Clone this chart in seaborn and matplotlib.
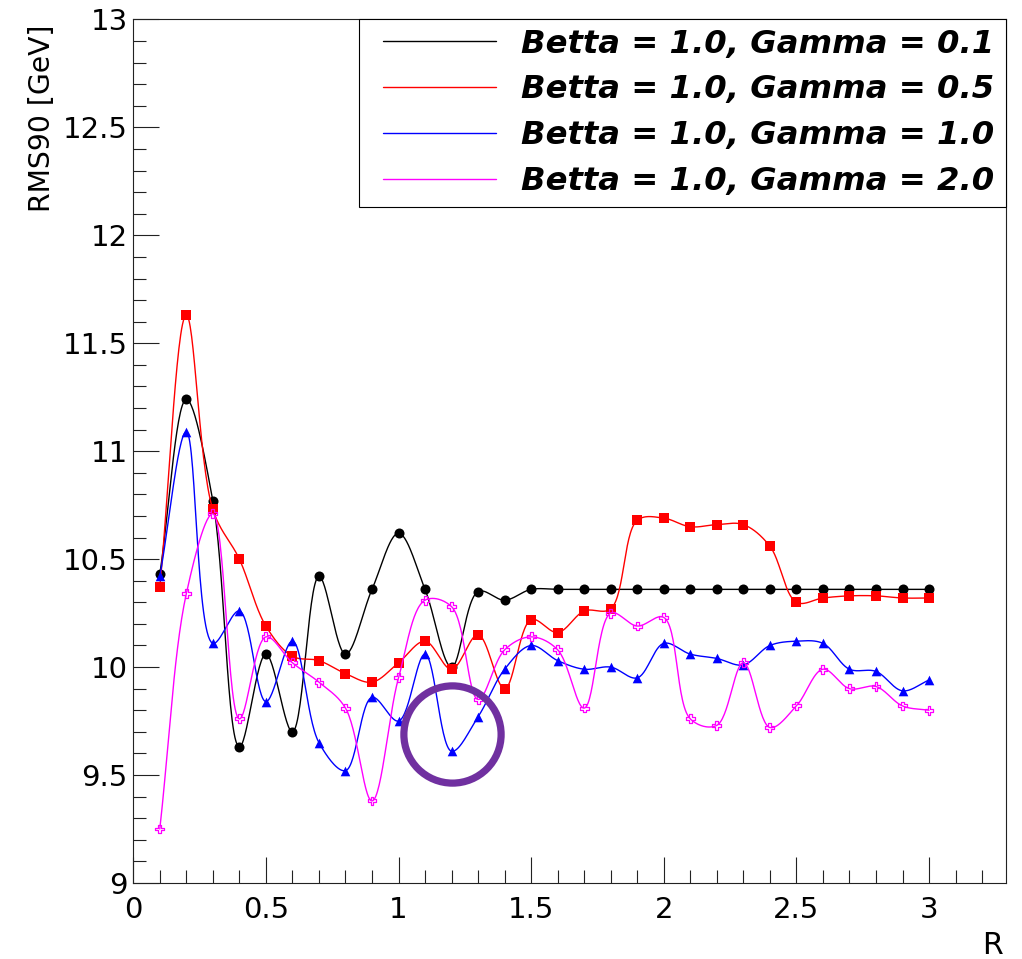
import numpy as np
import pandas as pd
import seaborn as sns
import matplotlib
matplotlib.use("Agg")
import matplotlib.pyplot as plt
from matplotlib.path import Path
from matplotlib.ticker import MultipleLocator, FuncFormatter
from matplotlib.font_manager import FontProperties

# ---- data -------------------------------------------------------------
r_values = [0.1, 0.2, 0.3, 0.4, 0.5, 0.6, 0.7, 0.8, 0.9, 1.0,
            1.1, 1.2, 1.3, 1.4, 1.5, 1.6, 1.7, 1.8, 1.9, 2.0,
            2.1, 2.2, 2.3, 2.4, 2.5, 2.6, 2.7, 2.8, 2.9, 3.0]

rms_gamma_01 = [10.43, 11.24, 10.77, 9.63, 10.06, 9.70, 10.42, 10.06, 10.36, 10.62,
                10.36, 10.00, 10.35, 10.31, 10.36, 10.36, 10.36, 10.36, 10.36, 10.36,
                10.36, 10.36, 10.36, 10.36, 10.36, 10.36, 10.36, 10.36, 10.36, 10.36]

rms_gamma_05 = [10.37, 11.63, 10.73, 10.50, 10.19, 10.05, 10.03, 9.97, 9.93, 10.02,
                10.12, 9.99, 10.15, 9.90, 10.22, 10.16, 10.26, 10.27, 10.68, 10.69,
                10.65, 10.66, 10.66, 10.56, 10.30, 10.32, 10.33, 10.33, 10.32, 10.32]

rms_gamma_10 = [10.42, 11.09, 10.11, 10.26, 9.84, 10.12, 9.65, 9.52, 9.86, 9.75,
                10.06, 9.61, 9.77, 9.99, 10.10, 10.03, 9.99, 10.00, 9.95, 10.11,
                10.06, 10.04, 10.01, 10.10, 10.12, 10.11, 9.99, 9.98, 9.89, 9.94]

rms_gamma_20 = [9.25, 10.34, 10.71, 9.76, 10.14, 10.02, 9.93, 9.81, 9.38, 9.95,
                10.31, 10.28, 9.85, 10.08, 10.14, 10.08, 9.81, 10.25, 10.19, 10.23,
                9.76, 9.73, 10.02, 9.72, 9.82, 9.99, 9.90, 9.91, 9.82, 9.80]

series_labels = ["Betta = 1.0, Gamma = 0.1", "Betta = 1.0, Gamma = 0.5",
                 "Betta = 1.0, Gamma = 1.0", "Betta = 1.0, Gamma = 2.0"]

# highlighted point (blue minimum)
highlight_r = 1.2
highlight_rms = 9.69


def smooth_curve(x, y, per_interval=30, alpha=0.5, sx=265.5, sy=215.9):
    """Centripetal Catmull-Rom curve through the points, built in
    screen-like units so steep segments bend naturally."""
    P = np.column_stack([np.asarray(x, float) * sx, np.asarray(y, float) * sy])
    P = np.vstack([2 * P[0] - P[1], P, 2 * P[-1] - P[-2]])
    out = []
    for i in range(1, len(P) - 2):
        p0, p1, p2, p3 = P[i - 1], P[i], P[i + 1], P[i + 2]
        t0 = 0.0
        t1 = t0 + np.linalg.norm(p1 - p0) ** alpha
        t2 = t1 + np.linalg.norm(p2 - p1) ** alpha
        t3 = t2 + np.linalg.norm(p3 - p2) ** alpha
        last = i == len(P) - 3
        t = np.linspace(t1, t2, per_interval, endpoint=last)[:, None]
        a1 = (t1 - t) / (t1 - t0) * p0 + (t - t0) / (t1 - t0) * p1
        a2 = (t2 - t) / (t2 - t1) * p1 + (t - t1) / (t2 - t1) * p2
        a3 = (t3 - t) / (t3 - t2) * p2 + (t - t2) / (t3 - t2) * p3
        b1 = (t2 - t) / (t2 - t0) * a1 + (t - t0) / (t2 - t0) * a2
        b2 = (t3 - t) / (t3 - t1) * a2 + (t - t1) / (t3 - t1) * a3
        c = (t2 - t) / (t2 - t1) * b1 + (t - t1) / (t2 - t1) * b2
        out.append(c)
    C = np.vstack(out)
    return C[:, 0] / sx, C[:, 1] / sy


# open cross marker outline
cross_verts = [(-1/3, 1), (1/3, 1), (1/3, 1/3), (1, 1/3), (1, -1/3), (1/3, -1/3),
               (1/3, -1), (-1/3, -1), (-1/3, -1/3), (-1, -1/3), (-1, 1/3),
               (-1/3, 1/3), (-1/3, 1)]
open_cross = Path(cross_verts, [Path.MOVETO] + [Path.LINETO] * 11 + [Path.CLOSEPOLY])

sns.set_style("ticks")
plt.rcParams["font.family"] = ["DejaVu Sans"]
plt.rcParams["text.color"] = "black"
plt.rcParams["axes.labelcolor"] = "black"

fig = plt.figure(figsize=(10.22, 9.59), dpi=100)
ax = fig.add_axes([0.1304, 0.0793, 0.8539, 0.9004])

styles = [
    (rms_gamma_01, "#000000", "o", 52, True),
    (rms_gamma_05, "#FF0000", "s", 44, True),
    (rms_gamma_10, "#0000FF", "^", 48, True),
    (rms_gamma_20, "#FF00FF", open_cross, 40, False),
]

for k, (vals, color, marker, size, filled) in enumerate(styles):
    xs, ys = smooth_curve(r_values, vals)
    curve = pd.DataFrame({"R": xs, "RMS90": ys})
    sns.lineplot(data=curve, x="R", y="RMS90", color=color, lw=1.0,
                 estimator=None, sort=False, label=series_labels[k],
                 ax=ax, zorder=2 + k)
    pts = pd.DataFrame({"R": r_values, "RMS90": vals})
    if filled:
        sns.scatterplot(data=pts, x="R", y="RMS90", marker=marker, s=size,
                        color=color, edgecolor=color, linewidth=0,
                        legend=False, ax=ax, zorder=2.5 + k)
    else:
        sns.scatterplot(data=pts, x="R", y="RMS90", marker=marker, s=size,
                        facecolor="none", edgecolor=color, linewidth=0.9,
                        legend=False, ax=ax, zorder=2.5 + k)

# ring around the highlighted point
ax.plot([highlight_r], [highlight_rms], marker="o", ms=70, mfc="none",
        mec="#7030A0", mew=5.2, zorder=10, clip_on=False)

# ---- axes -------------------------------------------------------------
ax.set_xlim(0, 3.29)
ax.set_ylim(9, 13)
ax.xaxis.set_major_locator(MultipleLocator(0.5))
ax.xaxis.set_minor_locator(MultipleLocator(0.1))
ax.yaxis.set_major_locator(MultipleLocator(0.5))
ax.yaxis.set_minor_locator(MultipleLocator(0.1))
ax.xaxis.set_major_formatter(FuncFormatter(lambda v, p: f"{v:g}"))
ax.yaxis.set_major_formatter(FuncFormatter(lambda v, p: f"{v:g}"))

ax.tick_params(which="both", direction="in", top=False, right=False,
               width=0.8, color="#222222", labelsize=21, labelcolor="black")
ax.tick_params(which="major", length=18.7)
ax.tick_params(which="minor", length=9.4)
ax.tick_params(axis="x", which="both", pad=9.5)
ax.tick_params(axis="y", which="both", pad=4)

for sp in ax.spines.values():
    sp.set_linewidth(0.8)
    sp.set_color("#222222")

ax.set_xlabel("R", fontsize=21.5, color="black")
ax.xaxis.set_label_coords(0.9966, -0.056)
ax.xaxis.label.set_horizontalalignment("right")
ax.set_ylabel("RMS90 [GeV]", fontsize=20.3, color="black")
ax.yaxis.set_label_coords(-0.089, 0.9936)
ax.yaxis.label.set_horizontalalignment("right")

# ---- legend -----------------------------------------------------------
handles, labels = ax.get_legend_handles_labels()
leg = ax.legend(handles, labels, loc="upper left",
                bbox_to_anchor=(358.7 / 1022, 1 - 205 / 959,
                                (1005.5 - 358.7) / 1022, (205 - 19) / 959),
                bbox_transform=fig.transFigure, mode="expand", borderaxespad=0,
                prop=FontProperties(family="DejaVu Sans", weight="bold",
                                    style="oblique", size=23.2),
                handlelength=3.95, handletextpad=0.8, labelspacing=0.46,
                borderpad=0.3, fancybox=False, framealpha=1,
                edgecolor="black")
leg.get_frame().set_linewidth(0.8)
leg.set_zorder(20)
for txt in leg.get_texts():
    txt.set_color("black")
for ln in leg.get_lines():
    xd = np.asarray(ln.get_xdata(), float)
    yd = np.asarray(ln.get_ydata(), float)
    ln.set_data([xd[0] + 10.4, xd[-1]], [yd[0], yd[-1]])
    ln.set_linewidth(1.0)

fig.savefig("out.png", dpi=100)
